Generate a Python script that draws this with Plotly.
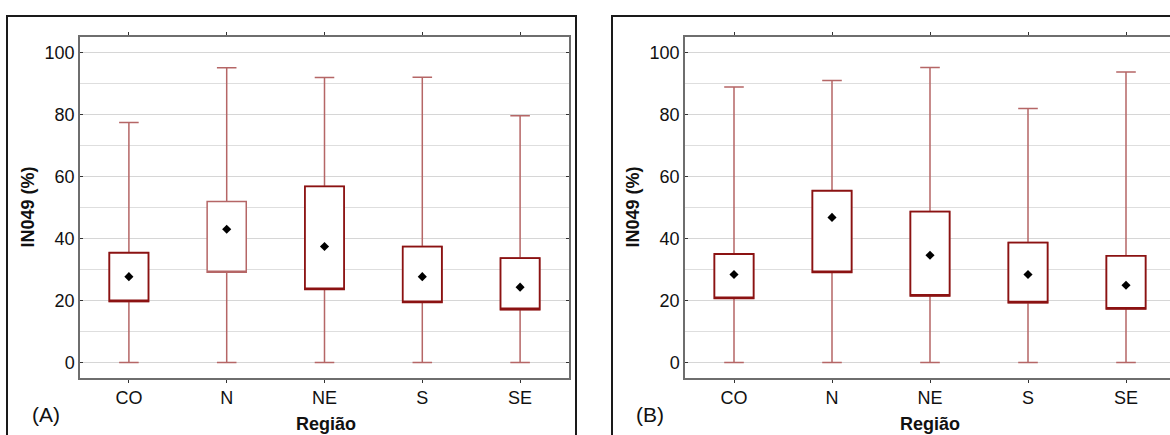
import plotly.graph_objects as go

regions = ["CO", "N", "NE", "S", "SE"]

# Panel A
a_min = [0, 0, 0, 0, 0]
a_q1 = [19.7, 29.1, 23.6, 19.4, 17.1]
a_q3 = [35.4, 51.9, 56.8, 37.4, 33.7]
a_max = [77.4, 95.1, 91.9, 92.0, 79.6]
a_center = [27.7, 43.0, 37.4, 27.7, 24.3]

# Panel B
b_min = [0, 0, 0, 0, 0]
b_q1 = [20.7, 29.1, 21.5, 19.3, 17.3]
b_q3 = [35.0, 55.4, 48.7, 38.7, 34.4]
b_max = [88.9, 91.0, 95.2, 81.9, 93.7]
b_center = [28.4, 46.8, 34.6, 28.4, 24.9]

y_ticks = [0, 20, 40, 60, 80, 100]

DARK = "#8B1212"
LIGHT = "#B56666"
FONT = "Liberation Sans, Arial, sans-serif"

fig = go.Figure()


def add_panel(xa, ya, q1, q3, lo, hi, ctr, light_boxes=()):
    # whiskers + box outline (light)
    fig.add_trace(go.Box(
        x=regions, q1=q1, median=q1, q3=q3, lowerfence=lo, upperfence=hi,
        xaxis=xa, yaxis=ya, width=0.4, whiskerwidth=0.5,
        line=dict(color=LIGHT, width=1.5), fillcolor="white",
        boxpoints=False, showlegend=False, hoverinfo="skip"))
    # dark box outline
    idx = [i for i, r in enumerate(regions) if r not in light_boxes]
    fig.add_trace(go.Box(
        x=[regions[i] for i in idx], q1=[q1[i] for i in idx],
        median=[q1[i] for i in idx], q3=[q3[i] for i in idx],
        lowerfence=[q1[i] for i in idx], upperfence=[q3[i] for i in idx],
        xaxis=xa, yaxis=ya, width=0.4, whiskerwidth=1,
        line=dict(color=DARK, width=1.8), fillcolor="white",
        boxpoints=False, showlegend=False, hoverinfo="skip"))
    fig.add_trace(go.Scatter(
        x=regions, y=ctr, mode="markers", xaxis=xa, yaxis=ya,
        marker=dict(symbol="diamond", size=7, color="black"),
        showlegend=False, hoverinfo="skip"))


add_panel("x", "y", a_q1, a_q3, a_min, a_max, a_center, light_boxes=("N",))
add_panel("x2", "y2", b_q1, b_q3, b_min, b_max, b_center)

ydom = [1 - 378 / 435, 1 - 37 / 435]

yax = dict(range=[-5, 105], tickvals=y_ticks, showgrid=True, gridcolor="#d6d6d6",
           gridwidth=1, minor=dict(dtick=10, showgrid=True, gridcolor="#dedede", tick0=0),
           zeroline=False, showline=True, linecolor="#6e6e6e", linewidth=1.5,
           mirror="ticks", ticks="inside", ticklen=3, tickcolor="#333",
           tickfont=dict(family=FONT, size=18, color="#111"), domain=ydom)
xax = dict(type="category", showgrid=False, zeroline=False, showline=True,
           linecolor="#6e6e6e", linewidth=1.5, mirror="ticks", ticks="outside",
           ticklen=3, tickcolor="#333",
           tickfont=dict(family=FONT, size=18, color="#111"))

fig.update_layout(
    width=1170, height=435, margin=dict(l=0, r=0, t=0, b=0),
    paper_bgcolor="white", plot_bgcolor="white", boxmode="overlay",
    xaxis=dict(xax, domain=[80 / 1170, 569 / 1170], range=[-0.5, 4.5], anchor="y"),
    yaxis=dict(yax, anchor="x"),
    xaxis2=dict(xax, domain=[685 / 1170, 1.0], range=[-0.5, 4.449], anchor="y2"),
    yaxis2=dict(yax, anchor="x2", mirror=False),
)

# outer panel frames
for x0, x1 in [(7, 576), (612, 1200)]:
    fig.add_shape(type="rect", xref="paper", yref="paper",
                  x0=x0 / 1170, x1=x1 / 1170, y0=-0.1, y1=1 - 16 / 435,
                  line=dict(color="#1a1a1a", width=2), fillcolor="rgba(0,0,0,0)")

ann = []
for ylab_x, tag_x, tag, reg_x in [(27, 46, "(A)", 326), (632, 650, "(B)", 930)]:
    ann.append(dict(text="<b>IN049 (%)</b>", x=ylab_x / 1170, y=1 - 207.5 / 435,
                    xref="paper", yref="paper", textangle=-90, showarrow=False,
                    xanchor="center", yanchor="middle",
                    font=dict(family=FONT, size=18, color="#111")))
    ann.append(dict(text=tag, x=tag_x / 1170, y=1 - 414 / 435, xref="paper",
                    yref="paper", showarrow=False, xanchor="center", yanchor="middle",
                    font=dict(family=FONT, size=21, color="#111")))
    ann.append(dict(text="<b>Região</b>", x=reg_x / 1170, y=1 - 424 / 435,
                    xref="paper", yref="paper", showarrow=False,
                    xanchor="center", yanchor="middle",
                    font=dict(family=FONT, size=18, color="#111")))
fig.update_layout(annotations=ann)

fig.write_html("out.html", config={"displayModeBar": False},
               post_script="document.body.style.margin='0';")
